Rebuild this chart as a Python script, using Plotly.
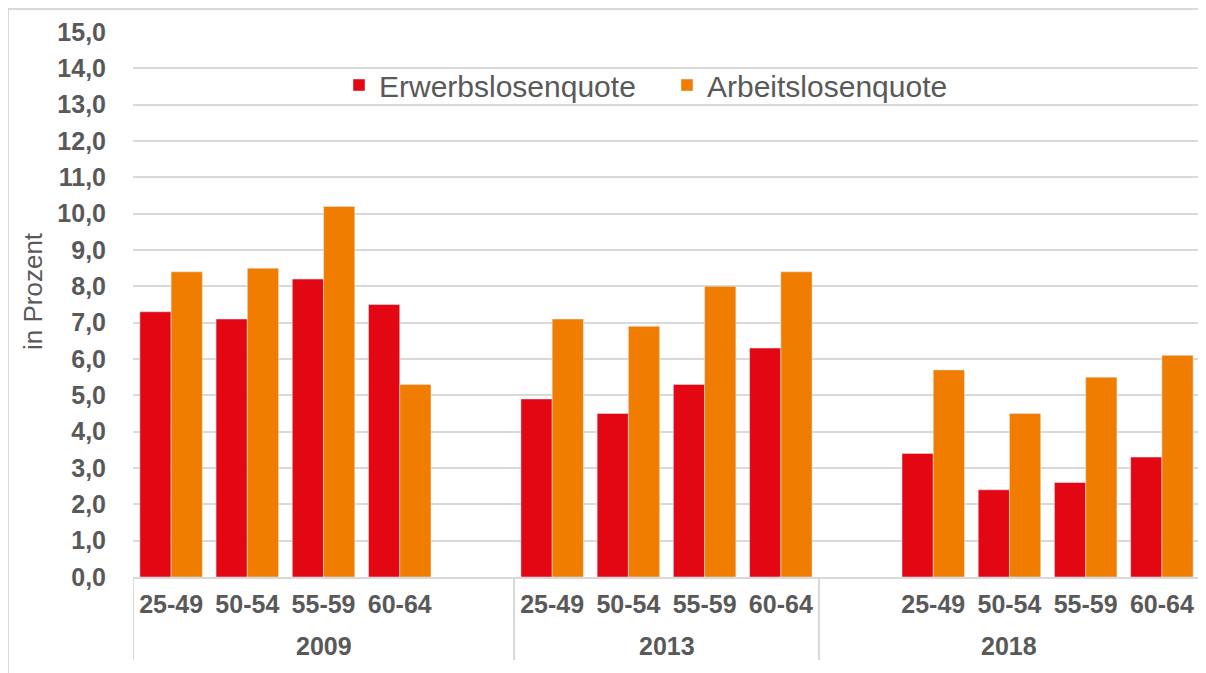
import plotly.graph_objects as go

# categories
jahre = ["2009", "2013", "2018"]
altersgruppen = ["25-49", "50-54", "55-59", "60-64"]

# Erwerbslosenquote / Arbeitslosenquote in percent, per year
erwerbslos_2009 = [7.3, 7.1, 8.2, 7.5]
erwerbslos_2013 = [4.9, 4.5, 5.3, 6.3]
erwerbslos_2018 = [3.4, 2.4, 2.6, 3.3]
arbeitslos_2009 = [8.4, 8.5, 10.2, 5.3]
arbeitslos_2013 = [7.1, 6.9, 8.0, 8.4]
arbeitslos_2018 = [5.7, 4.5, 5.5, 6.1]

y_ticks = list(range(0, 16))

ROT = "#E30613"
ORANGE = "#F07D00"
GRAU = "#d9d9d9"
TEXT = "#595959"
FONT = "Liberation Sans, Arial, sans-serif"

# build the slots of the x axis (empty slot after 2009 and before 2018)
erw = {"2009": erwerbslos_2009, "2013": erwerbslos_2013, "2018": erwerbslos_2018}
arb = {"2009": arbeitslos_2009, "2013": arbeitslos_2013, "2018": arbeitslos_2018}
slots, slot_text, y_erw, y_arb, jahr_idx = [], [], [], [], {}
for j in jahre:
    start = len(slots)
    if j == "2018":
        slots.append(j + " leer"); slot_text.append(""); y_erw.append(None); y_arb.append(None)
    for k, a in enumerate(altersgruppen):
        slots.append(j + " " + a)
        slot_text.append(a)
        y_erw.append(erw[j][k])
        y_arb.append(arb[j][k])
    if j == "2009":
        slots.append(j + " leer"); slot_text.append(""); y_erw.append(None); y_arb.append(None)
    jahr_idx[j] = (start, len(slots) - 1)

fig = go.Figure()
fig.add_trace(go.Bar(x=slots, y=y_erw, name="Erwerbslosenquote", marker_color=ROT))
fig.add_trace(go.Bar(x=slots, y=y_arb, name="Arbeitslosenquote", marker_color=ORANGE))

# page is drawn with an 8px body margin, so reference pixels are shifted by 8
OFF = 8
W, H = 1206 - OFF, 673 - OFF
L, R, T, B = 133 - OFF, 6, 32 - OFF, 96
pw, ph = W - L - R, H - T - B

def px(x):
    return (x - OFF - L) / pw

def py(y):
    return (H - B - (y - OFF)) / ph

shapes = [dict(type="rect", xref="paper", yref="paper",
               x0=px(8), x1=px(1230), y0=py(9), y1=py(700),
               line=dict(color=GRAU, width=2), layer="below")]
annotations = [dict(text="in Prozent", xref="paper", yref="paper",
                    x=px(33), y=py(291), xanchor="center", yanchor="middle",
                    textangle=-90, showarrow=False,
                    font=dict(size=26, color=TEXT))]
for j in jahre:
    a, b = jahr_idx[j]
    annotations.append(dict(text=j, xref="x", yref="paper", x=(a + b) / 2,
                            y=py(646), yanchor="middle", showarrow=False,
                            font=dict(size=25, color=TEXT, weight="bold")))
    for xb in (a - 0.5, b + 0.5):
        shapes.append(dict(type="line", xref="x", yref="paper",
                           x0=xb, x1=xb, y0=0, y1=py(660),
                           line=dict(color=GRAU, width=2)))

fig.update_layout(
    width=W, height=H,
    margin=dict(l=L, r=R, t=T, b=B),
    paper_bgcolor="white", plot_bgcolor="white",
    separators=",.",
    barmode="group", bargap=0.18, bargroupgap=0,
    font=dict(family=FONT, color=TEXT, size=22),
    showlegend=True,
    legend=dict(orientation="h", x=px(339), xanchor="left",
                y=py(85), yanchor="middle", bgcolor="rgba(0,0,0,0)",
                entrywidth=283,
                font=dict(size=30, color=TEXT), traceorder="normal"),
    shapes=shapes,
    annotations=annotations,
)

fig.update_xaxes(
    type="category", tickvals=slots, ticktext=slot_text,
    range=[-0.5, len(slots) - 0.5],
    showline=True, linecolor=GRAU, linewidth=2,
    ticks="", showgrid=False, ticklabelstandoff=4,
    tickfont=dict(size=25, color=TEXT, weight="bold"),
)
fig.update_yaxes(
    range=[0, 15], tickvals=y_ticks, tickformat=".1f",
    showgrid=True, gridcolor=GRAU, gridwidth=2,
    zeroline=False, showline=False, ticks="",
    ticklabelstandoff=26,
    tickfont=dict(size=25, color=TEXT, weight="bold"),
)

fig.write_html("out.html")
